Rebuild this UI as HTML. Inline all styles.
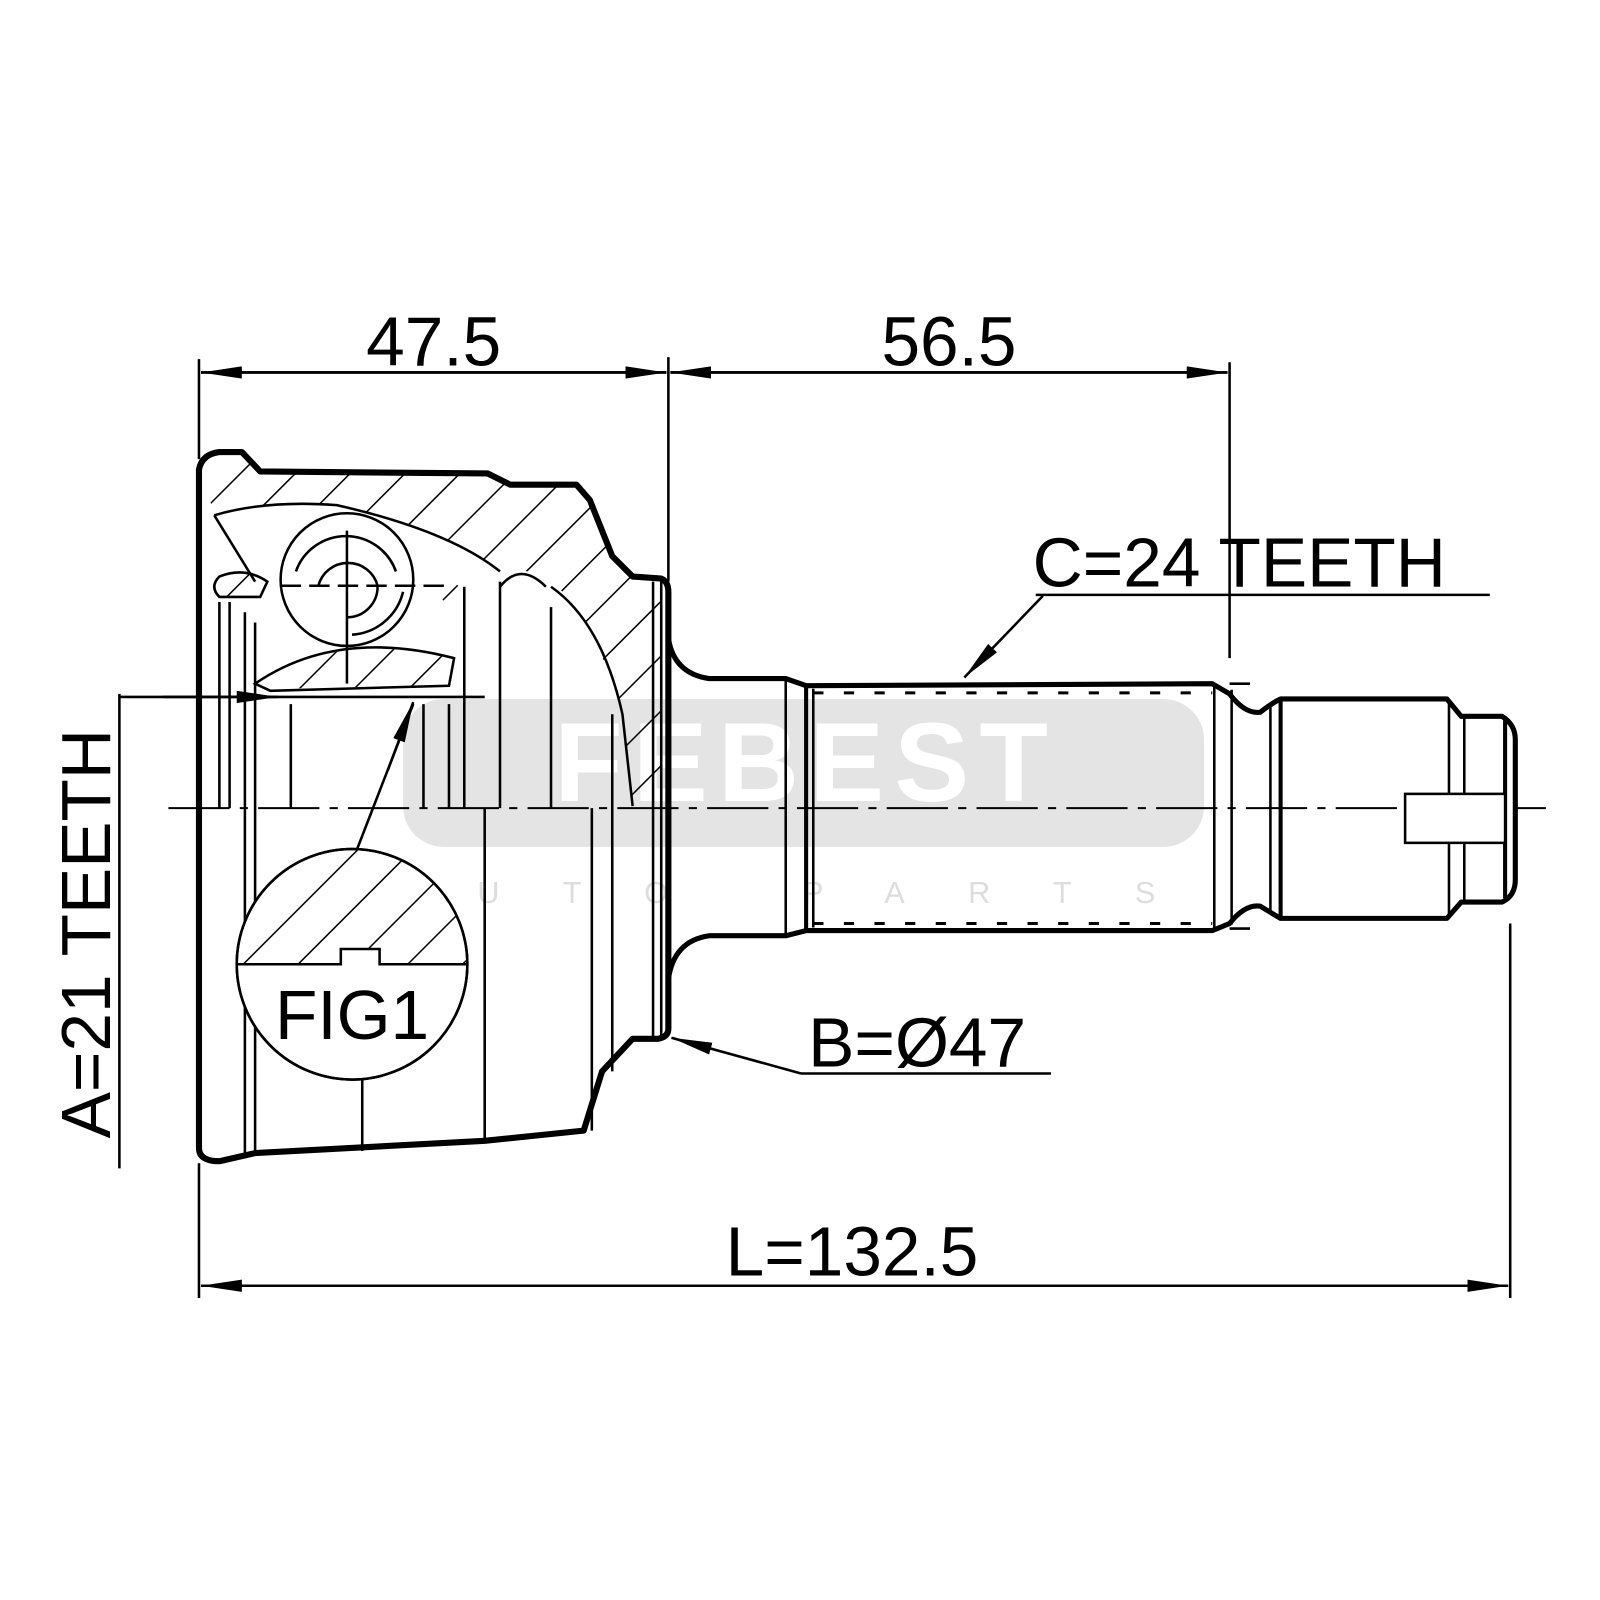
<!DOCTYPE html>
<html><head><meta charset="utf-8"><style>html,body{margin:0;padding:0;background:#fff}svg{display:block}</style></head>
<body>
<svg width="1600" height="1600" viewBox="0 0 1568 1568" xmlns="http://www.w3.org/2000/svg" font-family="Liberation Sans, Arial, sans-serif">
<defs>
<pattern id="h" patternUnits="userSpaceOnUse" width="38" height="38" patternTransform="rotate(45)">
<line x1="0" y1="0" x2="0" y2="38" stroke="#000" stroke-width="3"/>
</pattern>
<marker id="a" markerWidth="40" markerHeight="12" refX="40" refY="6" orient="auto" markerUnits="userSpaceOnUse"><path d="M0,0 L40,6 L0,12 z" fill="#000"/></marker>
</defs>
<!-- watermark -->
<rect x="395" y="685" width="785" height="145" rx="40" fill="#e4e4e4"/>
<text x="790" y="785" font-size="110" font-weight="bold" fill="#fff" text-anchor="middle" letter-spacing="10">FEBEST</text>
<text x="790" y="885" font-size="30" fill="#ddd" text-anchor="middle" letter-spacing="62">AUTO PARTS</text>

<g fill="none" stroke="#000" stroke-width="2.5">
<line x1="195" y1="352" x2="195" y2="450"/>
<line x1="655" y1="350" x2="655" y2="570"/>
<line x1="1205" y1="355" x2="1205" y2="645"/>
<line x1="197" y1="365" x2="653" y2="365" marker-end="url(#a)"/>
<line x1="653" y1="365" x2="197" y2="365" marker-end="url(#a)"/>
<line x1="657" y1="365" x2="1203" y2="365" marker-end="url(#a)"/>
<line x1="1203" y1="365" x2="657" y2="365" marker-end="url(#a)"/>
<line x1="195" y1="1140" x2="195" y2="1272"/>
<line x1="1480" y1="905" x2="1480" y2="1272"/>
<line x1="197" y1="1260" x2="1478" y2="1260" marker-end="url(#a)"/>
<line x1="1478" y1="1260" x2="197" y2="1260" marker-end="url(#a)"/>
<line x1="117" y1="680" x2="117" y2="1145"/>
<line x1="117" y1="683" x2="475" y2="683"/>
<line x1="160" y1="683" x2="272" y2="683" marker-end="url(#a)"/>
<line x1="165" y1="792" x2="1515" y2="792" stroke-width="2" stroke-dasharray="60,10,8,10"/>
</g>

<path d="M200,470 Q205,448 235,446 L255,462 L480,465 L500,476 L565,476 L580,492 L600,545 L620,565 L648,570 L648,790 L620,790 L610,700 Q580,600 540,570 Q520,555 490,560 Q440,520 330,495 Q260,490 210,505 Z" fill="url(#h)"/>
<path d="M250,670 Q330,615 445,645 L435,672 L265,675 Z" fill="url(#h)"/>
<path d="M210,570 L230,555 L262,572 L245,590 L215,585 Z" fill="url(#h)"/>
<path d="M410,560 L440,565 L465,590 L440,595 Z" fill="url(#h)"/>

<g fill="none" stroke="#000" stroke-width="5" stroke-linejoin="round">
<path d="M195,1125 L195,460 Q198,445 215,443 L237,443 L255,462 L478,464 L500,475 L565,475 L578,490 L600,545 L620,565 L648,567 Q655,570 655,580 L655,1008 Q655,1016 645,1018 L620,1018 L590,1050 L572,1108 L475,1118 L250,1130 L215,1138 Q195,1138 195,1125 Z" stroke-width="6"/>
<path d="M655,625 Q660,660 695,665 L770,665 L790,672 L1188,670 L1205,680 Q1220,700 1235,698 Q1248,688 1255,685 L1418,685 L1432,702 L1472,702 Q1485,710 1485,725 L1485,862 Q1485,878 1472,884 L1432,884 L1418,900 L1255,900 Q1248,896 1235,888 Q1220,886 1205,905 L1188,912 L790,912 L770,917 L695,917 Q660,922 655,960"/>
</g>
<g fill="none" stroke="#000" stroke-width="2.5">
<line x1="770" y1="665" x2="770" y2="917"/>
<line x1="790" y1="672" x2="790" y2="912" stroke-width="4"/>
<line x1="797" y1="675" x2="797" y2="909"/>
<line x1="1190" y1="672" x2="1190" y2="910"/>
<line x1="1207" y1="676" x2="1207" y2="906"/>
<line x1="1245" y1="692" x2="1245" y2="893"/>
<line x1="1255" y1="687" x2="1255" y2="898" stroke-width="4"/>
<line x1="1420" y1="690" x2="1420" y2="896"/>
<line x1="1435" y1="702" x2="1435" y2="884"/>
<line x1="1475" y1="706" x2="1475" y2="880" stroke-width="4"/>
<line x1="1205" y1="670" x2="1225" y2="670"/>
<line x1="1205" y1="910" x2="1225" y2="910"/>
<rect x="1377" y="778" width="98" height="48" fill="#fff"/>
<line x1="797" y1="679" x2="1188" y2="679" stroke-dasharray="10,20" stroke-width="3"/>
<line x1="797" y1="905" x2="1188" y2="905" stroke-dasharray="10,20" stroke-width="3"/>
<line x1="215" y1="590" x2="215" y2="792"/>
<line x1="225" y1="590" x2="225" y2="792"/>
<line x1="240" y1="600" x2="240" y2="1130"/>
<line x1="250" y1="610" x2="250" y2="1130"/>
<line x1="285" y1="690" x2="285" y2="792"/>
<line x1="355" y1="840" x2="355" y2="1128"/>
<line x1="415" y1="690" x2="415" y2="792"/>
<line x1="440" y1="690" x2="440" y2="792"/>
<line x1="455" y1="575" x2="455" y2="792"/>
<line x1="475" y1="792" x2="475" y2="1120"/>
<line x1="580" y1="792" x2="580" y2="1108"/>
<line x1="600" y1="700" x2="600" y2="1050"/>
<line x1="640" y1="570" x2="640" y2="1018"/>
<line x1="648" y1="570" x2="648" y2="1018"/>
<line x1="490" y1="570" x2="490" y2="792"/>
<line x1="540" y1="595" x2="540" y2="792"/>
<path d="M490,575 Q510,550 535,575"/>
<path d="M210,505 Q260,490 330,495 Q440,520 490,560"/>
<path d="M210,505 L250,570"/>
<path d="M250,670 Q330,615 445,645 L440,672 L265,677 Z"/>
<path d="M215,585 Q205,575 215,565 Q240,555 262,570 L255,585 Z"/>
<path d="M540,575 Q590,610 610,700 L620,790"/>
<circle cx="340" cy="568" r="65" fill="#fff"/>
<line x1="340" y1="520" x2="340" y2="670"/>
<line x1="275" y1="574" x2="440" y2="574" stroke-dasharray="20,8"/>
<path d="M312,574 A30,30 0 0 1 370,574 A30,30 0 0 1 340,605" />
<path d="M290,560 A52,52 0 0 1 388,560 M395,580 A55,55 0 0 1 345,622"/>
<line x1="350" y1="832" x2="405" y2="690" />
<line x1="380" y1="755" x2="405" y2="688" marker-end="url(#a)"/>
<line x1="1015" y1="583" x2="1460" y2="583"/>
<line x1="1022" y1="584" x2="945" y2="664" marker-end="url(#a)"/>
<line x1="785" y1="1052" x2="1030" y2="1052"/>
<line x1="785" y1="1052" x2="658" y2="1017" marker-end="url(#a)"/>
<circle cx="345" cy="945" r="113" fill="#fff"/>
</g>
<clipPath id="fc"><path d="M232,945 A113,113 0 0 1 458,945 L372,945 L372,930 L334,930 L334,945 Z"/></clipPath>
<rect x="230" y="830" width="230" height="120" fill="url(#h)" clip-path="url(#fc)"/>
<path d="M232,945 L334,945 L334,930 L372,930 L372,945 L458,945" fill="none" stroke="#000" stroke-width="2.5"/>
<circle cx="345" cy="945" r="113" fill="none" stroke="#000" stroke-width="2.5"/>

<g fill="#000" font-size="68">
<text x="425" y="358" text-anchor="middle">47.5</text>
<text x="930" y="358" text-anchor="middle">56.5</text>
<text x="1012" y="575">C=24 TEETH</text>
<text x="792" y="1045">B=Ø47</text>
<text x="835" y="1250" text-anchor="middle">L=132.5</text>
<text x="345" y="1018" text-anchor="middle">FIG1</text>
<text transform="translate(108,915) rotate(-90)" text-anchor="middle">A=21 TEETH</text>
</g>
</svg>
</body></html>
